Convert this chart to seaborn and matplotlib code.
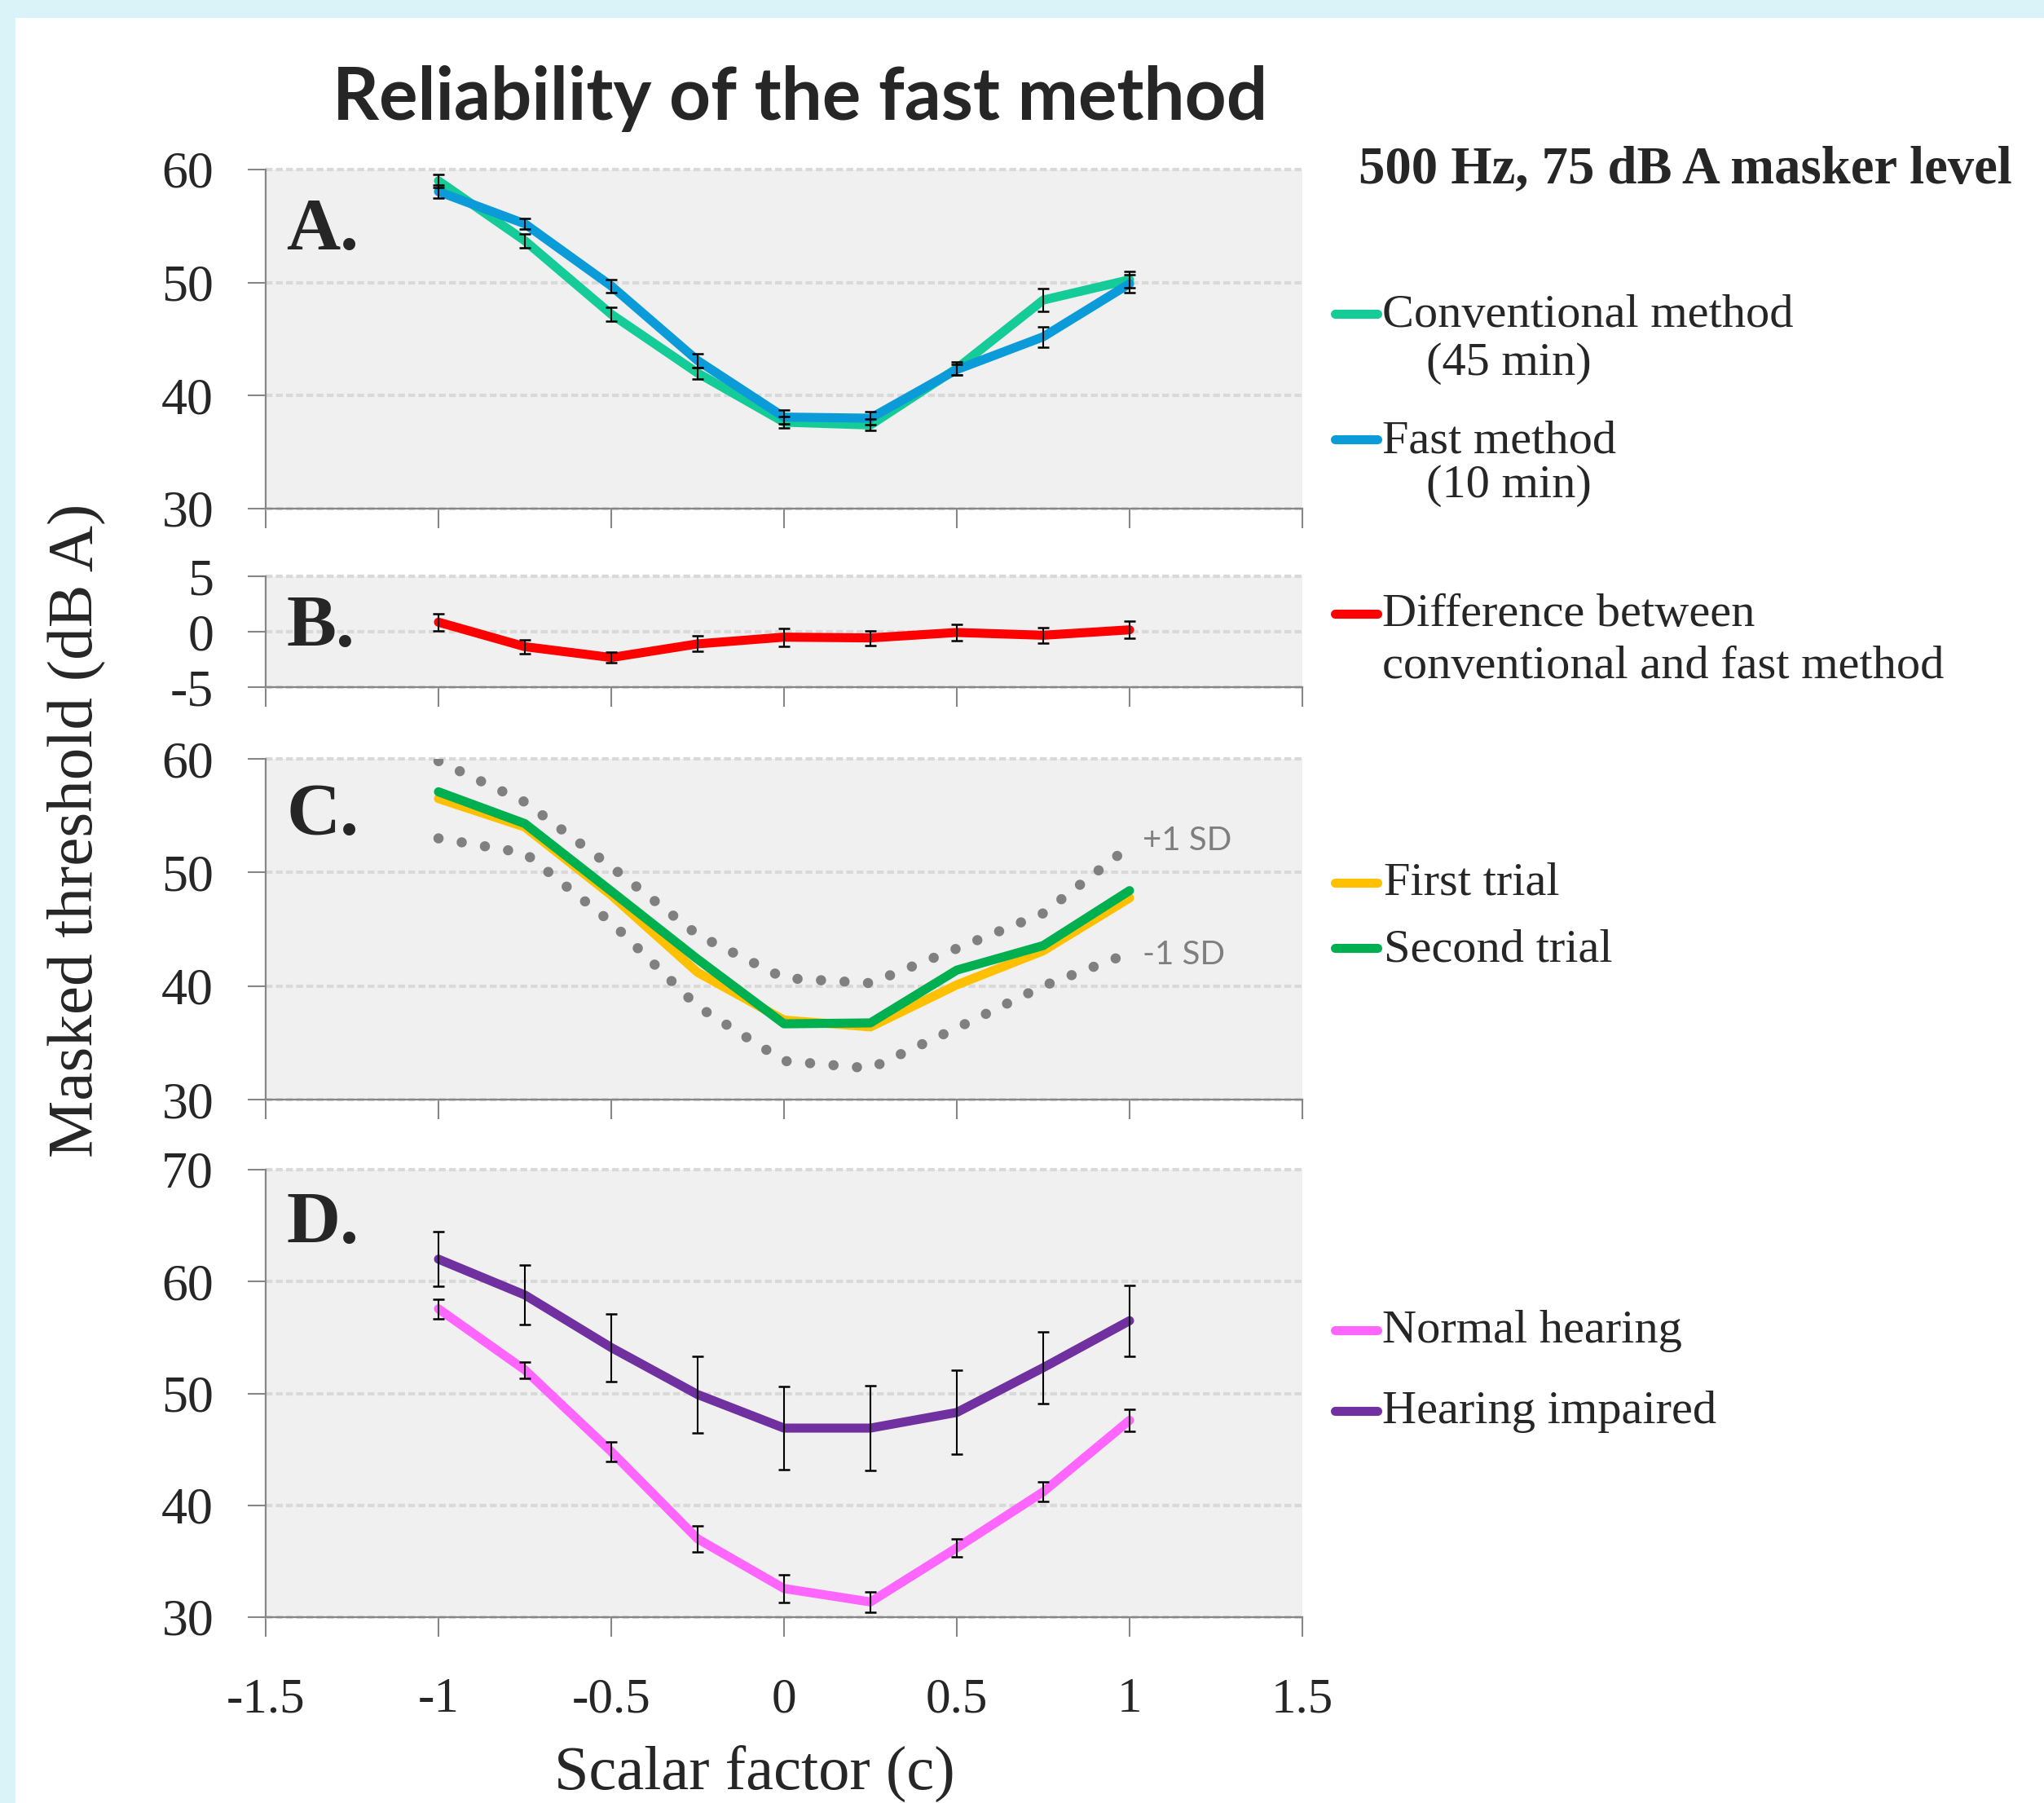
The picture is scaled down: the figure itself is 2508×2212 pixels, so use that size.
import numpy as np
import pandas as pd
import matplotlib
matplotlib.use("Agg")
import matplotlib.pyplot as plt
import seaborn as sns
from matplotlib.lines import Line2D
from matplotlib.patches import Rectangle

# ---------------- data ----------------
scalar = [-1, -0.75, -0.5, -0.25, 0, 0.25, 0.5, 0.75, 1]

conventional = [59.0, 53.7, 47.2, 42.0, 37.65, 37.4, 42.4, 48.45, 50.25]
conventional_err = [0.6, 0.6, 0.6, 0.5, 0.5, 0.5, 0.6, 1.0, 0.7]
fast = [58.05, 55.2, 49.7, 43.1, 38.1, 38.0, 42.3, 45.2, 49.9]
fast_err = [0.6, 0.5, 0.6, 0.6, 0.6, 0.6, 0.5, 0.9, 0.8]

difference = [0.86, -1.35, -2.33, -1.1, -0.49, -0.56, -0.07, -0.32, 0.17]
difference_err = [0.78, 0.65, 0.5, 0.7, 0.8, 0.66, 0.75, 0.69, 0.75]

first_trial = [56.5, 54.0, 48.0, 41.2, 37.0, 36.4, 40.1, 43.1, 47.75]
second_trial = [57.1, 54.3, 48.35, 42.36, 36.67, 36.75, 41.4, 43.56, 48.4]
plus_sd = [59.8, 56.2, 50.5, 44.5, 40.7, 40.25, 43.3, 46.4, 52.3]
minus_sd = [53.0, 51.7, 45.6, 38.2, 33.4, 32.75, 36.3, 40.0, 42.9]

normal = [57.56, 52.1, 44.8, 37.0, 32.56, 31.36, 36.2, 41.2, 47.6]
normal_err = [0.88, 0.74, 0.86, 1.18, 1.24, 0.93, 0.8, 0.88, 1.0]
impaired = [62.0, 58.8, 54.1, 49.9, 46.9, 46.9, 48.3, 52.3, 56.5]
impaired_err = [2.44, 2.67, 3.04, 3.43, 3.72, 3.8, 3.76, 3.18, 3.15]

x_ticks = [-1.5, -1, -0.5, 0, 0.5, 1, 1.5]
x_tick_labels = ["-1.5", "-1", "-0.5", "0", "0.5", "1", "1.5"]
ticks_A = [30, 40, 50, 60]
ticks_B = [-5, 0, 5]
ticks_C = [30, 40, 50, 60]
ticks_D = [30, 40, 50, 60, 70]
labels_B = ["-5", "0", "5"]

title = "Reliability of the fast method"
subtitle = "500 Hz, 75 dB A masker level"
ylabel = "Masked threshold (dB A)"
xlabel = "Scalar factor (c)"

# ---------------- style ----------------
sns.set_style("white")
SERIF = ["Liberation Serif", "DejaVu Serif"]
SANS = ["Lato", "DejaVu Sans"]
plt.rcParams["font.family"] = SERIF

C_CONV = "#15CC98"
C_FAST = "#0A9BD8"
C_DIFF = "#FF0000"
C_FIRST = "#FFC000"
C_SECOND = "#00B050"
C_NORMAL = "#FF66FF"
C_IMPAIRED = "#7030A0"
C_SD = "#808080"
AX_BG = "#F0F0F0"
SPINE = "#868686"
GRID = "#D9D9D9"
LW = 8.0

W, H = 2508, 2212
fig = plt.figure(figsize=(W / 100, H / 100), dpi=100)
fig.patch.set_facecolor("#DAF3F8")
fig.add_artist(Rectangle((19 / W, 0), 1, 1 - 22 / H, transform=fig.transFigure,
                         facecolor="white", edgecolor="none", zorder=-10))


def px_axes(left, top, right, bottom):
    return fig.add_axes([left / W, 1 - bottom / H, (right - left) / W, (bottom - top) / H])


def style_axes(ax, ylim, yticks, ylabels=None, show_x=False):
    ax.set_facecolor(AX_BG)
    ax.set_xlim(-1.5, 1.5)
    ax.set_ylim(*ylim)
    ax.set_xticks(x_ticks)
    ax.set_yticks(yticks)
    if ylabels is not None:
        ax.set_yticklabels(ylabels)
    else:
        ax.set_yticklabels([str(t) for t in yticks])
    if show_x:
        ax.set_xticklabels(x_tick_labels)
    else:
        ax.set_xticklabels([])
    for s in ["top", "right"]:
        ax.spines[s].set_visible(False)
    for s in ["left", "bottom"]:
        ax.spines[s].set_color(SPINE)
        ax.spines[s].set_linewidth(1.6)
        ax.spines[s].set_zorder(6)
    ax.tick_params(axis="x", length=17, width=1.5, color=SPINE, direction="out",
                   labelsize=44, pad=36, bottom=True)
    ax.tick_params(axis="y", length=16, width=1.5, color=SPINE, direction="out",
                   labelsize=46, pad=30, left=True)
    ax.grid(axis="y", color=GRID, lw=3.0, ls=(0, (2.0, 1.0)))
    ax.grid(axis="x", visible=False)
    for gl in ax.get_ygridlines():
        gl.set_clip_on(False)
    ax.set_axisbelow(True)
    ax.set_xlabel("")
    ax.set_ylabel("")


def line(ax, y, color, **kw):
    sns.lineplot(x=scalar, y=y, ax=ax, color=color, linewidth=kw.pop("lw", LW),
                 solid_capstyle="round", errorbar=None, **kw)


def errbars(ax, y, err):
    ax.errorbar(scalar, y, yerr=err, fmt="none", ecolor="black", elinewidth=1.5,
                capsize=5, capthick=1.8, zorder=5)


# Panel A
axA = px_axes(326, 208, 1598, 624)
line(axA, conventional, C_CONV)
line(axA, fast, C_FAST)
errbars(axA, conventional, conventional_err)
errbars(axA, fast, fast_err)
style_axes(axA, (30, 60), ticks_A)

# Panel B
axB = px_axes(326, 707, 1598, 843)
line(axB, difference, C_DIFF)
errbars(axB, difference, difference_err)
style_axes(axB, (-5, 5), ticks_B, labels_B)

# Panel C
axC = px_axes(326, 931, 1598, 1349)
line(axC, plus_sd, C_SD, lw=9, linestyle=(0, (0.01, 2.3)), dash_capstyle="round")
line(axC, minus_sd, C_SD, lw=9, linestyle=(0, (0.01, 2.3)), dash_capstyle="round")
line(axC, first_trial, C_FIRST)
line(axC, second_trial, C_SECOND)
style_axes(axC, (30, 60), ticks_C)

# Panel D
axD = px_axes(326, 1435, 1598, 1984)
line(axD, normal, C_NORMAL)
line(axD, impaired, C_IMPAIRED)
errbars(axD, normal, normal_err)
errbars(axD, impaired, impaired_err)
style_axes(axD, (30, 70), ticks_D, show_x=True)

# panel letters
for ax, letter, yb in [(axA, "A.", 0.764), (axB, "B.", 0.368), (axC, "C.", 0.778), (axD, "D.", 0.836)]:
    ax.text(0.02, yb, letter, transform=ax.transAxes, fontsize=66, fontweight="bold",
            va="baseline", ha="left", zorder=7)

# SD labels
fig.text(1402 / W, 1 - 1043 / H, "+1 SD", family=SANS, fontsize=29, color="#7F7F7F", va="baseline")
fig.text(1402 / W, 1 - 1183 / H, "-1 SD", family=SANS, fontsize=29, color="#7F7F7F", va="baseline")

# titles and axis labels
fig.text(982 / W, 1 - 147 / H, title, ha="center", va="baseline", fontsize=64,
         fontweight="bold", family=SANS)
fig.text(1667 / W, 1 - 224 / H, subtitle, ha="left", va="baseline", fontsize=46.5, fontweight="bold")
fig.text(93 / W, 1 - 1019 / H, ylabel, rotation=90, ha="center", va="center", fontsize=57)
fig.text(926 / W, 1 - 2196 / H, xlabel, ha="center", va="baseline", fontsize=55)

# legend entries
legend_items = [
    (C_CONV, 385, [("Conventional method", 1696, 401), ("(45 min)", 1750, 460)]),
    (C_FAST, 539, [("Fast method", 1696, 555), ("(10 min)", 1750, 610)]),
    (C_DIFF, 753, [("Difference between", 1696, 768), ("conventional and fast method", 1696, 832)]),
    (C_FIRST, 1083, [("First trial", 1698, 1098)]),
    (C_SECOND, 1163, [("Second trial", 1698, 1180)]),
    (C_NORMAL, 1632, [("Normal hearing", 1696, 1647)]),
    (C_IMPAIRED, 1731, [("Hearing impaired", 1696, 1746)]),
]
for color, hy, texts in legend_items:
    fig.add_artist(Line2D([1638 / W, 1690 / W], [1 - hy / H, 1 - hy / H], transform=fig.transFigure,
                          color=color, lw=LW, solid_capstyle="round"))
    for txt, tx, ty in texts:
        fig.text(tx / W, 1 - ty / H, txt, ha="left", va="baseline", fontsize=42)

fig.savefig("out.png", dpi=100, facecolor=fig.get_facecolor())
